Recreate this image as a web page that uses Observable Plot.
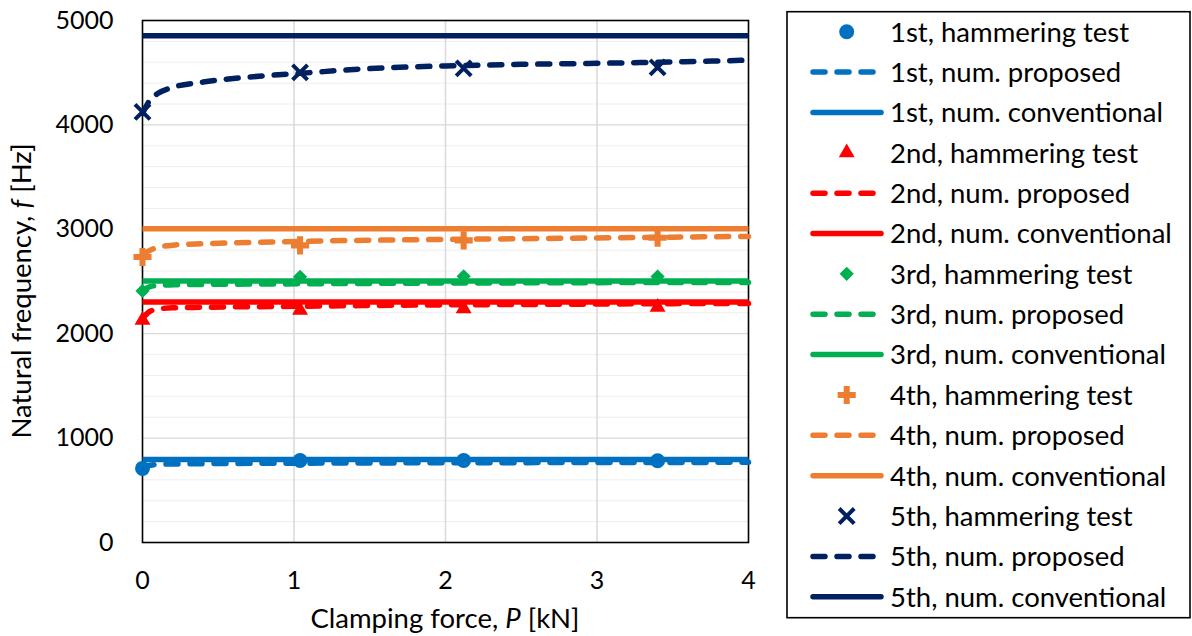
<!DOCTYPE html>
<html>
<head>
<meta charset="utf-8">
<script src="https://cdn.jsdelivr.net/npm/d3@7"></script>
<script src="https://cdn.jsdelivr.net/npm/@observablehq/plot@0.6"></script>
<style>
  html, body { margin: 0; padding: 0; background: #fff; }
  #chart { position: relative; width: 1192px; height: 636px; }
</style>
</head>
<body>
<div id="chart"></div>
<script>
// ---- data ----
const modes = ["1st", "2nd", "3rd", "4th", "5th"];
const colors = ["#0070C0", "#FF0000", "#00B050", "#ED7D31", "#002060"];
const symbols = ["circle", "triangle", "diamond2", "cross", "times"];

// hammering test points
const P_test = [0, 1.04, 2.12, 3.40];
const test1 = [710, 785, 785, 783];
const test2 = [2130, 2225, 2240, 2255];
const test3 = [2410, 2545, 2550, 2548];
const test4 = [2734, 2846, 2894, 2920];
const test5 = [4125, 4503, 4541, 4551];

// numerical, proposed model
const P_num = [0, 0.05, 0.1, 0.2, 0.4, 0.6, 0.85, 1.05, 1.5, 2, 2.5, 3, 3.5, 4];
const prop1 = [715, 740, 748, 752, 755, 757, 759, 760, 762, 764, 765, 766, 767, 768];
const prop2 = [2150, 2215, 2235, 2248, 2253, 2257, 2260, 2263, 2270, 2276, 2280, 2284, 2288, 2290];
const prop3 = [2415, 2450, 2462, 2468, 2472, 2474, 2476, 2478, 2482, 2485, 2487, 2489, 2490, 2491];
const prop4 = [2760, 2800, 2825, 2848, 2862, 2870, 2878, 2885, 2895, 2903, 2910, 2917, 2925, 2932];
const prop5 = [4110, 4240, 4300, 4360, 4410, 4445, 4475, 4495, 4540, 4565, 4580, 4590, 4603, 4620];

// numerical, conventional model (constant over P)
const P_conv = [0, 4];
const conv = [795, 2303, 2505, 3005, 4855];

// axes
const xTicks = [0, 1, 2, 3, 4];
const xTickLabels = ["0", "1", "2", "3", "4"];
const yTicks = [0, 1000, 2000, 3000, 4000, 5000];
const yMinor = d3.range(200, 5000, 200).filter(v => v % 1000 !== 0);
const yMajorGrid = [1000, 2000, 3000, 4000];
const xGrid = [1, 2, 3];

const xTitle = ["Clamping force, ", "P", " [kN]"];
const yTitle = ["Natural frequency, ", "f", " [Hz]"];
const legendKinds = ["hammering test", "num. proposed", "num. conventional"];

// ---- build ----
const tests = [test1, test2, test3, test4, test5];
const props = [prop1, prop2, prop3, prop4, prop5];
const markerR = [7.5, 5.9, 6.4, 7.6, 6.9];
const LW = 5.5;
const DASH = "12 12";
const FONT = "Lato, 'Open Sans', sans-serif";

const marks = [
  Plot.ruleY(yMinor, {stroke: "#eeeeee", strokeWidth: 1}),
  Plot.ruleY(yMajorGrid, {stroke: "#d9d9d9", strokeWidth: 1.2}),
  Plot.ruleX(xGrid, {stroke: "#d9d9d9", strokeWidth: 1.5}),
  Plot.frame({stroke: "#000", strokeWidth: 1.6}),
  Plot.axisY({ticks: yTicks, tickSize: 0, tickPadding: 29, label: null, fontSize: 25, tickFormat: d => String(d)}),
  Plot.axisX({ticks: xTicks, tickSize: 0, tickPadding: 29, label: null, fontSize: 25, tickFormat: (d, i) => xTickLabels[i]})
];

modes.forEach((m, k) => {
  const testData = P_test.map((p, i) => ({P: p, f: tests[k][i]}));
  const propData = P_num.map((p, i) => ({P: p, f: props[k][i]}));
  const convData = P_conv.map(p => ({P: p, f: conv[k]}));
  const isStroke = symbols[k] === "times";
  marks.push(Plot.dot(testData, {
    x: "P", y: "f", symbol: () => symbols[k], r: markerR[k],
    fill: isStroke ? "none" : colors[k],
    stroke: isStroke ? colors[k] : "none",
    strokeWidth: isStroke ? 4 : 0
  }));
  marks.push(Plot.line(propData, {
    x: "P", y: "f", stroke: colors[k], strokeWidth: LW,
    strokeDasharray: DASH, strokeLinecap: "round", curve: "monotone-x"
  }));
  marks.push(Plot.line(convData, {
    x: "P", y: "f", stroke: colors[k], strokeWidth: LW, strokeLinecap: "butt"
  }));
});

const svgNode = Plot.plot({
  width: 1192,
  height: 636,
  marginLeft: 142,
  marginRight: 444,
  marginTop: 20,
  marginBottom: 94,
  x: {domain: [0, 4], axis: null},
  y: {domain: [0, 5000], axis: null},
  style: {fontFamily: FONT, fontSize: "25px", color: "#000", background: "#fff", overflow: "visible"},
  marks
});
document.getElementById("chart").appendChild(svgNode);

const svg = d3.select(svgNode);

// axis titles
const xt = svg.append("text")
  .attr("x", 445).attr("y", 628)
  .attr("text-anchor", "middle")
  .attr("font-family", FONT).attr("font-size", 27.5).attr("fill", "#000");
xTitle.forEach((s, i) => xt.append("tspan").attr("font-style", i === 1 ? "italic" : "normal").text(s));

const yt = svg.append("text")
  .attr("transform", "translate(31,291) rotate(-90)")
  .attr("text-anchor", "middle")
  .attr("font-family", FONT).attr("font-size", 27.5).attr("fill", "#000");
yTitle.forEach((s, i) => yt.append("tspan").attr("font-style", i === 1 ? "italic" : "normal").text(s));

// legend
const lg = svg.append("g").attr("text-anchor", "start");
lg.append("rect")
  .attr("x", 787).attr("y", 11.7).attr("width", 403).attr("height", 606)
  .attr("fill", "#fff").attr("stroke", "#000").attr("stroke-width", 1.6);

const d3sym = {circle: d3.symbolCircle, triangle: d3.symbolTriangle, diamond2: d3.symbolDiamond2, cross: d3.symbolCross, times: d3.symbolTimes};
const rowY0 = 31.7, rowStep = 40.36;
modes.forEach((m, k) => {
  legendKinds.forEach((kind, j) => {
    const row = k * 3 + j;
    const y = rowY0 + row * rowStep;
    if (j === 0) {
      const isStroke = symbols[k] === "times";
      lg.append("path")
        .attr("transform", `translate(846.7,${y})`)
        .attr("d", d3.symbol(d3sym[symbols[k]], Math.PI * markerR[k] * markerR[k])())
        .attr("fill", isStroke ? "none" : colors[k])
        .attr("stroke", isStroke ? colors[k] : "none")
        .attr("stroke-width", isStroke ? 4 : 0);
    } else if (j === 1) {
      lg.append("line")
        .attr("x1", 813).attr("x2", 874).attr("y1", y).attr("y2", y)
        .attr("stroke", colors[k]).attr("stroke-width", LW)
        .attr("stroke-dasharray", DASH).attr("stroke-linecap", "round");
    } else {
      lg.append("line")
        .attr("x1", 813).attr("x2", 881).attr("y1", y).attr("y2", y)
        .attr("stroke", colors[k]).attr("stroke-width", LW)
        .attr("stroke-linecap", "round");
    }
    lg.append("text")
      .attr("x", 890).attr("y", y).attr("dy", "0.36em")
      .attr("text-anchor", "start")
      .attr("font-family", FONT).attr("font-size", 27.5).attr("fill", "#000")
      .text(`${m}, ${kind}`);
  });
});
</script>
</body>
</html>
